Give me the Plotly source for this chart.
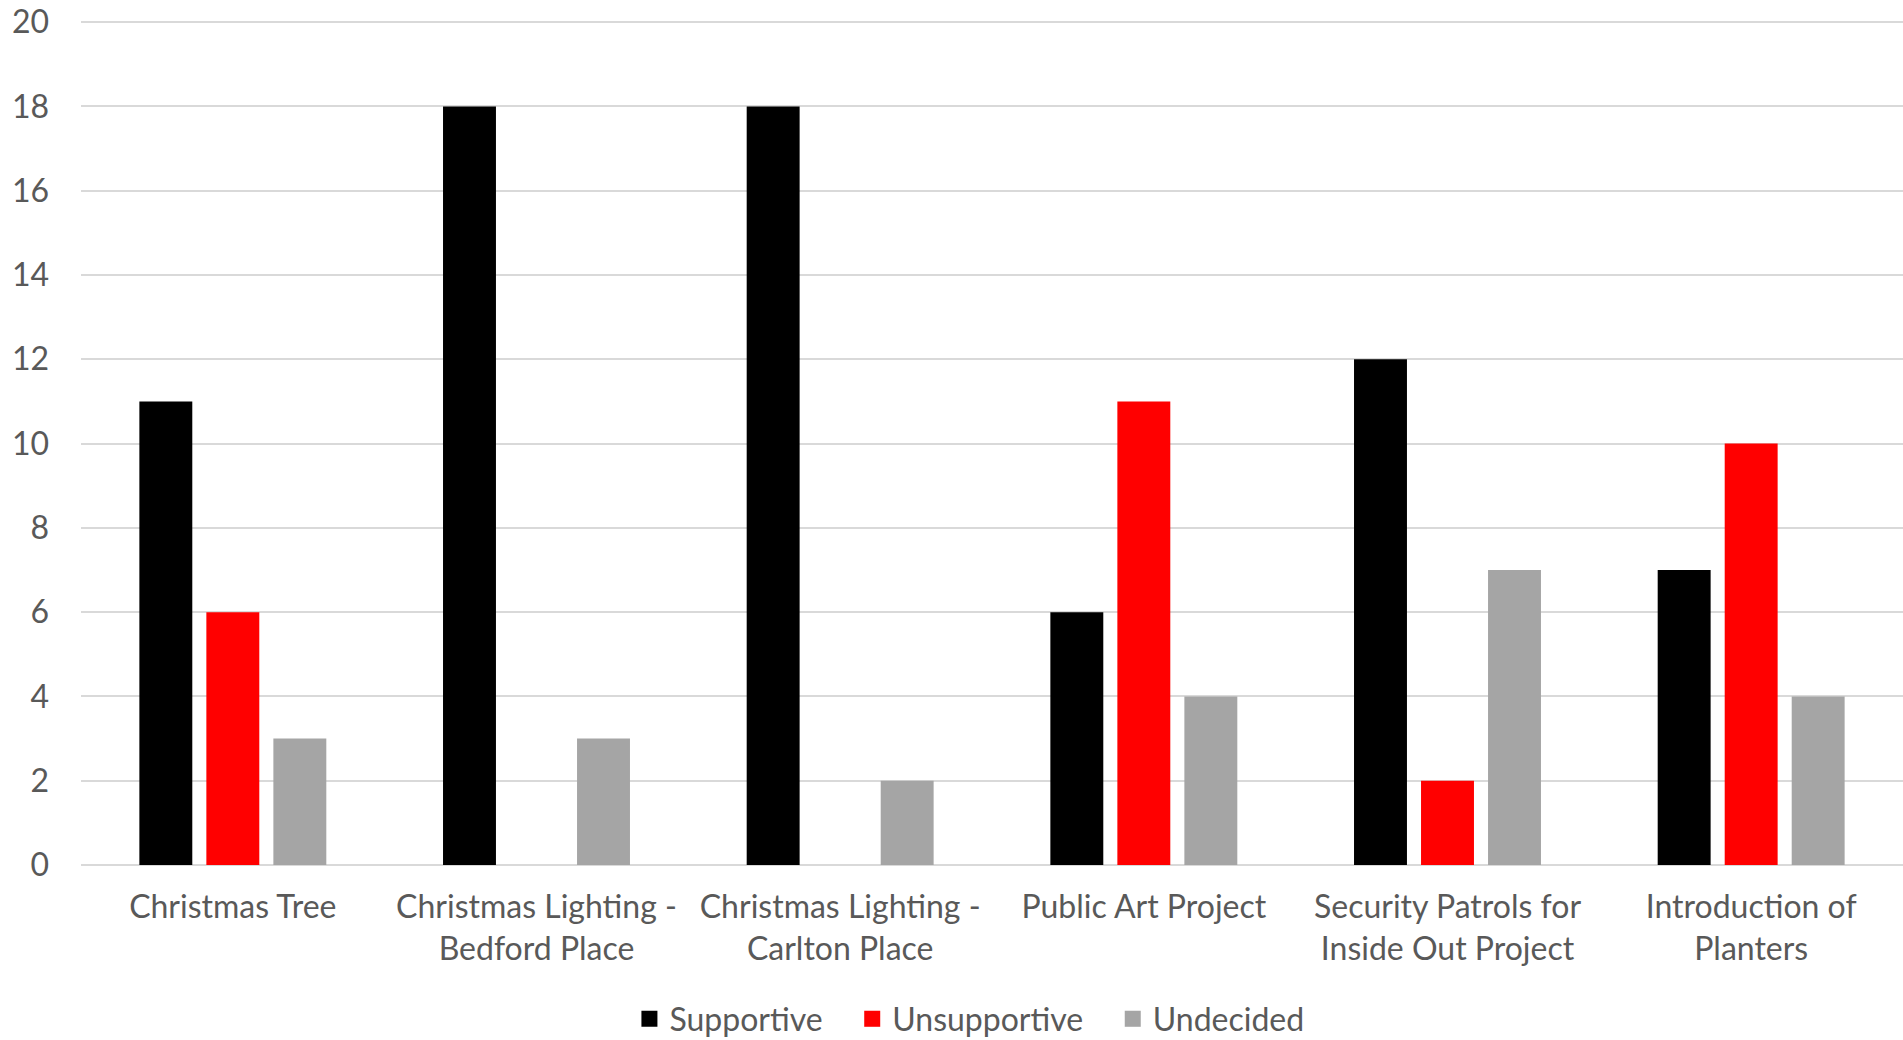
import plotly.graph_objects as go

categories = [
    "Christmas Tree",
    "Christmas Lighting -<br>Bedford Place",
    "Christmas Lighting -<br>Carlton Place",
    "Public Art Project",
    "Security Patrols for<br>Inside Out Project",
    "Introduction of<br>Planters",
]
supportive = [11, 18, 18, 6, 12, 7]
unsupportive = [6, 0, 0, 11, 2, 10]
undecided = [3, 3, 2, 4, 7, 4]

series = [
    ("Supportive", supportive, "#000000"),
    ("Unsupportive", unsupportive, "#ff0000"),
    ("Undecided", undecided, "#a5a5a5"),
]

FONT = "Lato, 'Open Sans', sans-serif"
TXT = "#595959"
NB = "\u00a0\u00a0\u00a0"

fig = go.Figure()
for name, vals, col in series:
    fig.add_trace(go.Bar(x=categories, y=vals, name=name, showlegend=False,
                         marker=dict(color=col, line=dict(width=0))))
# legend entries with larger square swatches
for i, (name, vals, col) in enumerate(series):
    label = name + (NB if i < len(series) - 1 else "")
    fig.add_trace(go.Scatter(x=[None], y=[None], mode="markers", name=label,
                             marker=dict(symbol="square", size=18, color=col)))

fig.update_layout(
    width=1903, height=1040,
    margin=dict(l=81, r=0, t=20, b=175),
    paper_bgcolor="white", plot_bgcolor="white",
    barmode="group", bargap=0.338, bargroupgap=0.21,
    font=dict(family=FONT, size=32, color=TXT),
    showlegend=True,
    legend=dict(orientation="h", xref="paper", yref="container", x=0.301, xanchor="left",
                y=0.0202, yanchor="middle", font=dict(size=32, color=TXT),
                itemwidth=30, tracegroupgap=0, traceorder="normal"),
    xaxis=dict(showgrid=False, showline=False, ticks="", automargin=False,
               ticklabelstandoff=20, tickfont=dict(size=32, color=TXT)),
    yaxis=dict(range=[0, 20.05], tickvals=list(range(0, 21, 2)), showgrid=True,
               gridcolor="#d9d9d9", gridwidth=2,
               zeroline=True, zerolinecolor="#d9d9d9", zerolinewidth=2,
               showline=False, ticks="", ticklabelstandoff=31, automargin=False,
               ticklabeloverflow="allow",
               tickfont=dict(size=32, color=TXT)),
)

fig.write_html("out.html", config={"displayModeBar": False},
               post_script="document.body.style.margin='0';")
